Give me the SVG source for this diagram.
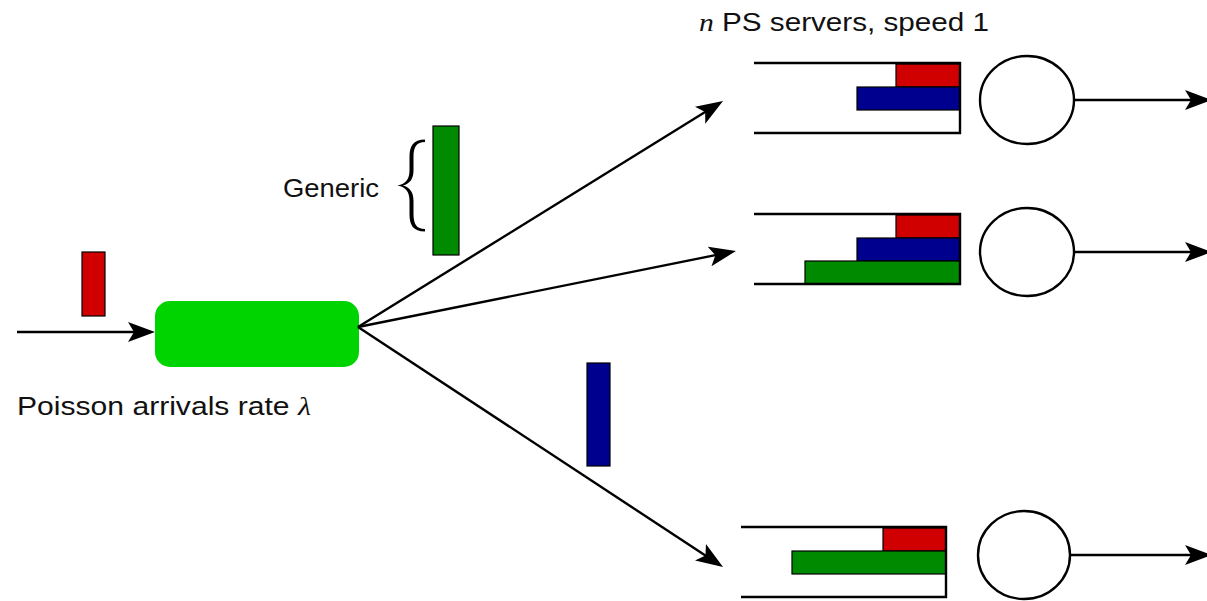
<svg xmlns="http://www.w3.org/2000/svg" width="1207" height="601" viewBox="0 0 1207 601">
  <style>
    .lbl { font-family: "Liberation Sans", "DejaVu Sans", sans-serif; font-size: 26px; fill: #111; }
    .math { font-family: "Liberation Serif", "DejaVu Serif", serif; font-style: italic; }
    .wire { fill: none; stroke: #000; stroke-width: 2.4; }
    .job { stroke: #000; stroke-width: 1.2; }
    .red { fill: #d00000; }
    .blue { fill: #00008e; }
    .green { fill: #008a00; }
    .queue { fill: none; stroke: #000; stroke-width: 2.4; }
    .srv { fill: #fff; stroke: #000; stroke-width: 2.4; }
  </style>
  <defs>
    <marker id="head" markerUnits="userSpaceOnUse" viewBox="-27 -11 28 22" markerWidth="28" markerHeight="22" refX="-12" refY="0" orient="auto">
      <path d="M0,0 L-27,-10 L-21,0 L-27,10 Z" fill="#000"/>
    </marker>
  </defs>

  <rect width="1207" height="601" fill="#fff"/>

  <!-- dispatcher -->
  <g id="dispatcher">
    <rect x="155" y="301" width="204" height="66" rx="15" ry="15" fill="#00d400"/>
  </g>

  <!-- arriving job and label -->
  <g id="arrival">
    <rect class="job red" x="82" y="252" width="23" height="64"/>
    <text class="lbl" x="17" y="415" textLength="294" lengthAdjust="spacingAndGlyphs">Poisson arrivals rate <tspan class="math">λ</tspan></text>
  </g>

  <!-- generic job with brace -->
  <g id="generic">
    <text class="lbl" x="283" y="197" textLength="96" lengthAdjust="spacingAndGlyphs">Generic</text>
    <!-- brace drawn as a filled outline, thicker at the stems -->
    <path d="M425,139.5 C413,139.5 409.5,146 409.5,157 L409.5,170 C409.5,179 406,184 397.5,185.5
             C406,187 409.5,192 409.5,201 L409.5,214 C409.5,225 413,231.5 425,231.5
             L425,229 C416.5,229 413.5,224 413.5,214 L413.5,201 C413.5,192 410,187.5 403,185.5
             C410,183.5 413.5,179 413.5,170 L413.5,157 C413.5,147 416.5,142 425,142 Z" fill="#000"/>
    <rect class="job green" x="433" y="126" width="26" height="129"/>
  </g>

  <!-- job in transit -->
  <g id="transit">
    <rect class="job blue" x="587" y="363" width="23" height="103"/>
  </g>

  <!-- title -->
  <g id="title">
    <text class="lbl" x="699" y="31" textLength="290" lengthAdjust="spacingAndGlyphs"><tspan class="math">n</tspan> PS servers, speed 1</text>
  </g>

  <!-- server 1 -->
  <g id="server1">
    <rect class="job red" x="896" y="64" width="64" height="23"/>
    <rect class="job blue" x="857" y="87" width="103" height="23"/>
    <path class="queue" d="M754,63 H960 V133 H754"/>
    <ellipse class="srv" cx="1027" cy="100" rx="47" ry="44"/>
  </g>

  <!-- server 2 -->
  <g id="server2">
    <rect class="job red" x="896" y="215" width="64" height="23"/>
    <rect class="job blue" x="857" y="238" width="103" height="23"/>
    <rect class="job green" x="805" y="261" width="155" height="23"/>
    <path class="queue" d="M754,214 H960 V284 H754"/>
    <ellipse class="srv" cx="1027" cy="252" rx="47" ry="44"/>
  </g>

  <!-- server 3 -->
  <g id="server3">
    <rect class="job red" x="883" y="528" width="63" height="23"/>
    <rect class="job green" x="792" y="551" width="154" height="23"/>
    <path class="queue" d="M741,527 H946 V597 H741"/>
    <ellipse class="srv" cx="1024" cy="555" rx="46" ry="44"/>
  </g>

  <!-- connectors -->
  <g id="connectors">
    <line class="wire" x1="17" y1="332" x2="143" y2="332" marker-end="url(#head)"/>
    <line class="wire" x1="358" y1="327" x2="712.8" y2="107.3" marker-end="url(#head)"/>
    <line class="wire" x1="358" y1="327" x2="724.2" y2="253.4" marker-end="url(#head)"/>
    <line class="wire" x1="358" y1="327" x2="713" y2="560.5" marker-end="url(#head)"/>
    <line class="wire" x1="1075" y1="100" x2="1200" y2="100" marker-end="url(#head)"/>
    <line class="wire" x1="1075" y1="252" x2="1200" y2="252" marker-end="url(#head)"/>
    <line class="wire" x1="1071" y1="555" x2="1200" y2="555" marker-end="url(#head)"/>
  </g>
</svg>
